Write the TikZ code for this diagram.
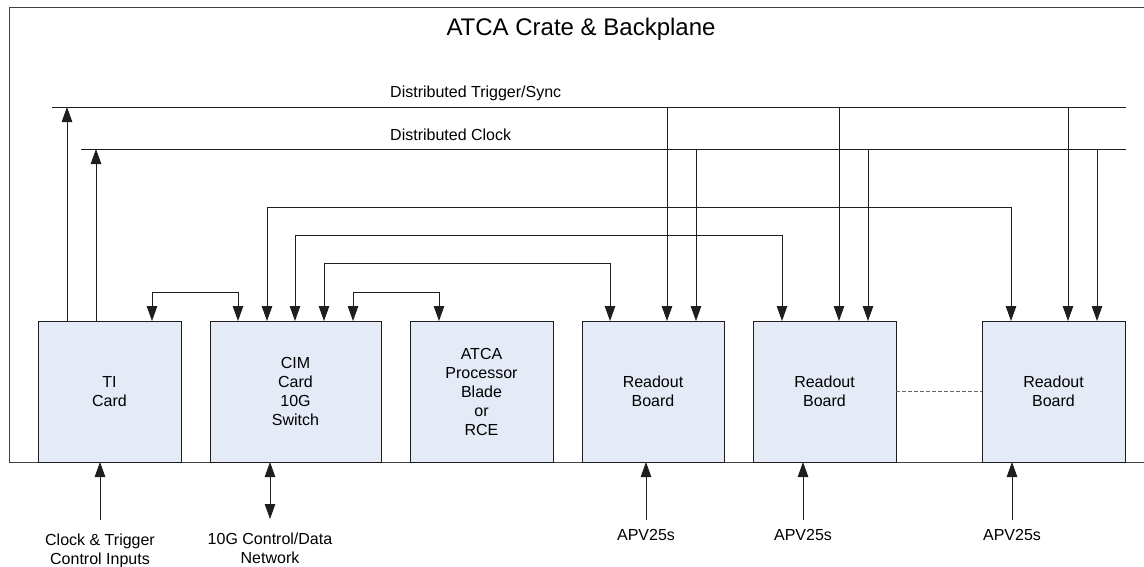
\documentclass[tikz,border=0pt]{standalone}
\usepackage{fontspec}
\setmainfont{Liberation Sans}
\usetikzlibrary{arrows.meta}
\definecolor{boxfill}{RGB}{228,234,246}
\definecolor{lineclr}{RGB}{30,30,30}
\tikzset{
  board/.style={draw=lineclr, fill=boxfill, line width=1pt, inner sep=0pt, outer sep=0pt,
    minimum height=141pt, align=center, font=\fontsize{16}{19}\selectfont},
  txt/.style={inner sep=0pt, font=\fontsize{16}{19}\selectfont, align=center},
  wire/.style={draw=lineclr, line width=1pt},
  arr/.style={wire, -{Triangle[length=15pt,width=10.5pt]}},
  darr/.style={wire, {Triangle[length=15pt,width=10.5pt]}-{Triangle[length=15pt,width=10.5pt]}},
}
\begin{document}
\begin{tikzpicture}[x=1pt,y=-1pt]
\useasboundingbox (0,0) rectangle (1144,566);
\clip (0,0) rectangle (1144,566);
% crate frame
\draw[draw=black!75, line width=1pt] (1160,462) -- (9,462) -- (9,7) -- (1160,7);
\node[inner sep=0pt, anchor=base, font=\fontsize{24}{28}\selectfont] (title) at (581,35.7) {ATCA Crate \& Backplane};

% buses
\coordinate (trigL) at (52,107);
\coordinate (trigR) at (1126,107);
\coordinate (clkL) at (81,149);
\coordinate (clkR) at (1126,149);
\draw[wire] (trigL) -- (trigR);
\draw[wire] (clkL) -- (clkR);
\node[txt, anchor=base west] (triglbl) at (390,97) {Distributed Trigger/Sync};
\node[txt, anchor=base west] (clklbl) at (390,140) {Distributed Clock};

% boards
\node[board, minimum width=143pt] (ti)   at (109.5,391.5) {TI\\Card};
\node[board, minimum width=171pt] (cim)  at (295.5,391.5) {CIM\\Card\\10G\\Switch};
\node[board, minimum width=143pt] (atca) at (481.5,391.5) {ATCA\\Processor\\Blade\\or\\RCE};
\node[board, minimum width=142pt] (r1)   at (653,391.5) {Readout\\Board};
\node[board, minimum width=143pt] (r2)   at (824.5,391.5) {Readout\\Board};
\node[board, minimum width=143pt] (r3)   at (1053.5,391.5) {Readout\\Board};

% TI to buses
\draw[arr] (ti.north -| 67,0) -- (67,107);
\draw[arr] (ti.north -| 96,0) -- (96,149);

% bus drops
\draw[arr] (667,107) -- (r1.north -| 667,0);
\draw[arr] (696,149) -- (r1.north -| 696,0);
\draw[arr] (839,107) -- (r2.north -| 839,0);
\draw[arr] (868,149) -- (r2.north -| 868,0);
\draw[arr] (1068,107) -- (r3.north -| 1068,0);
\draw[arr] (1097,149) -- (r3.north -| 1097,0);

% CIM links
\draw[darr] (ti.north -| 152,0) -- (152,292) -- (238,292) -- (cim.north -| 238,0);
\draw[darr] (cim.north -| 267,0) -- (267,207) -- (1011,207) -- (r3.north -| 1011,0);
\draw[darr] (cim.north -| 295,0) -- (295,235) -- (782,235) -- (r2.north -| 782,0);
\draw[darr] (cim.north -| 324,0) -- (324,263) -- (610,263) -- (r1.north -| 610,0);
\draw[darr] (cim.north -| 353,0) -- (353,292) -- (439,292) -- (atca.north -| 439,0);

% dashed between readouts
\draw[wire, draw=black!60, dash pattern=on 4pt off 2pt] (r2.east) -- (r3.west);

% bottom inputs
\coordinate (tiin) at (100,520);
\coordinate (cimin) at (270,519);
\coordinate (a1in) at (646,520);
\coordinate (a2in) at (803,520);
\coordinate (a3in) at (1012,520);
\draw[arr] (tiin) -- (ti.south -| tiin);
\draw[darr] (cimin) -- (cim.south -| cimin);
\draw[arr] (a1in) -- (r1.south -| a1in);
\draw[arr] (a2in) -- (r2.south -| a2in);
\draw[arr] (a3in) -- (r3.south -| a3in);
\node[txt] (tilbl) at (100,550.4) {Clock \& Trigger\\Control Inputs};
\node[txt] (cimlbl) at (270,548.3) {10G Control/Data\\Network};
\node[txt, anchor=base] (a1lbl) at (646,540) {APV25s};
\node[txt, anchor=base] (a2lbl) at (803,540) {APV25s};
\node[txt, anchor=base] (a3lbl) at (1012,540) {APV25s};
\end{tikzpicture}
\end{document}
